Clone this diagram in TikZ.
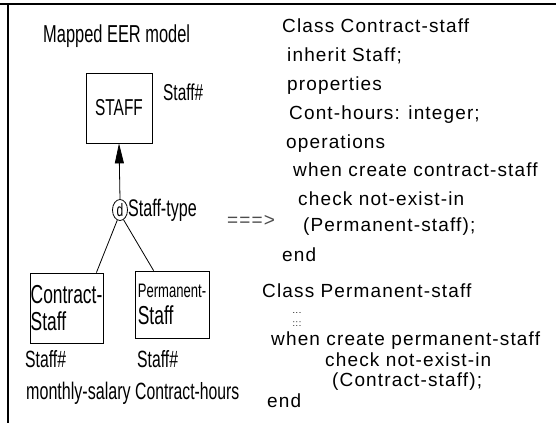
\documentclass[tikz,border=0pt]{standalone}
\usepackage{fontspec}
\setmainfont{Liberation Sans}
\newfontfamily\narrowsf[FakeStretch=0.67]{Liberation Sans}
\newfontfamily\widesf[LetterSpace=6]{Liberation Sans}
\usetikzlibrary{arrows.meta,shapes.geometric,calc}

\begin{document}
\begin{tikzpicture}[x=1pt,y=-1pt,
  erlabel/.style={font=\narrowsf\fontsize{23.5}{25}\selectfont, inner sep=0pt,
    anchor=west, text height=16pt, text depth=5pt},
  code/.style={font=\widesf\fontsize{19}{21}\selectfont, inner sep=0pt,
    anchor=west, text height=13pt, text depth=4pt},
  elide/.style={inner sep=0pt, font=\widesf\fontsize{9}{9}\selectfont},
  entity/.style={draw, line width=0.8pt, font=\narrowsf, inner sep=0pt},
  link/.style={line width=0.8pt},
  frameline/.style={line width=2pt}
]
\useasboundingbox (0,0) rectangle (556,423);

% frame
\draw[frameline] (0,4) -- (556,4);
\draw[frameline] (8,4) -- (8,423);

% ---- EER side ----
\node[erlabel, font=\narrowsf\fontsize{24.5}{26}\selectfont] (title) at (43,37) {Mapped EER model};

\node[entity, minimum width=66pt, minimum height=70pt,
      font=\narrowsf\fontsize{23}{25}\selectfont] (staff) at (119,108) {STAFF};
\node[erlabel, font=\narrowsf\fontsize{23}{25}\selectfont] (staffkey) at (163,95) {Staff\#};

\node[draw, ellipse, line width=0.8pt, minimum width=15pt, minimum height=21pt,
      inner sep=0pt, font=\narrowsf\fontsize{18}{18}\selectfont] (disj) at (120,210) {d};
\node[erlabel, font=\narrowsf\fontsize{24}{25}\selectfont] (stype) at (128,211) {Staff-type};

\draw[link, -{Triangle[length=20pt,width=9pt]}] (disj.north) -- (staff.south);

% subclass boxes (left-aligned two-line names)
\node[entity, minimum width=73pt, minimum height=70pt,
      align=left, font=\narrowsf\fontsize{26}{27}\selectfont]
      (contract) at (66.5,308) {Contract-\\Staff};
\node[entity, minimum width=74pt, minimum height=67pt,
      align=left, font=\narrowsf\fontsize{26}{27}\selectfont]
      (perm) at (172,304.5) {{\fontsize{19.5}{20}\selectfont Permanent-}\\Staff};

\draw[link] (disj.-105) -- ($(contract.north east)+(-7,0)$);
\draw[link] (disj.-70) -- ($(perm.north west)+(19,0)$);

\node[erlabel] (ckey) at (25,362) {Staff\#};
\node[erlabel, font=\narrowsf\fontsize{24}{25}\selectfont] (csal) at (26,394) {monthly-salary};
\node[erlabel] (pkey) at (137,362) {Staff\#};
\node[erlabel] (phrs) at (135,394) {Contract-hours};

% mapping arrow
\node[code, text=black!70] (maps) at (227,222) {===>};

% ---- class definitions ----
\node[code] (c1) at (282,28) {Class Contract-staff};
\node[code] (c2) at (287,57) {inherit Staff;};
\node[code] (c3) at (287,86) {properties};
\node[code] (c4) at (289,115) {Cont-hours: integer;};
\node[code] (c5) at (286,144) {operations};
\node[code] (c6) at (293,172) {when create contract-staff};
\node[code] (c7) at (298,201) {check not-exist-in};
\node[code] (c8) at (303,227) {(Permanent-staff);};
\node[code] (c9) at (282,257) {end};

\node[code] (p1) at (262,293) {Class Permanent-staff};
\node[elide] (p2) at (297,313) {...};
\node[elide] (p3) at (297,324) {:::};
\node[code] (p4) at (271,341) {when create permanent-staff};
\node[code] (p5) at (325,362) {check not-exist-in};
\node[code] (p6) at (332,382) {(Contract-staff);};
\node[code] (p7) at (267,403) {end};
\end{tikzpicture}
\end{document}
